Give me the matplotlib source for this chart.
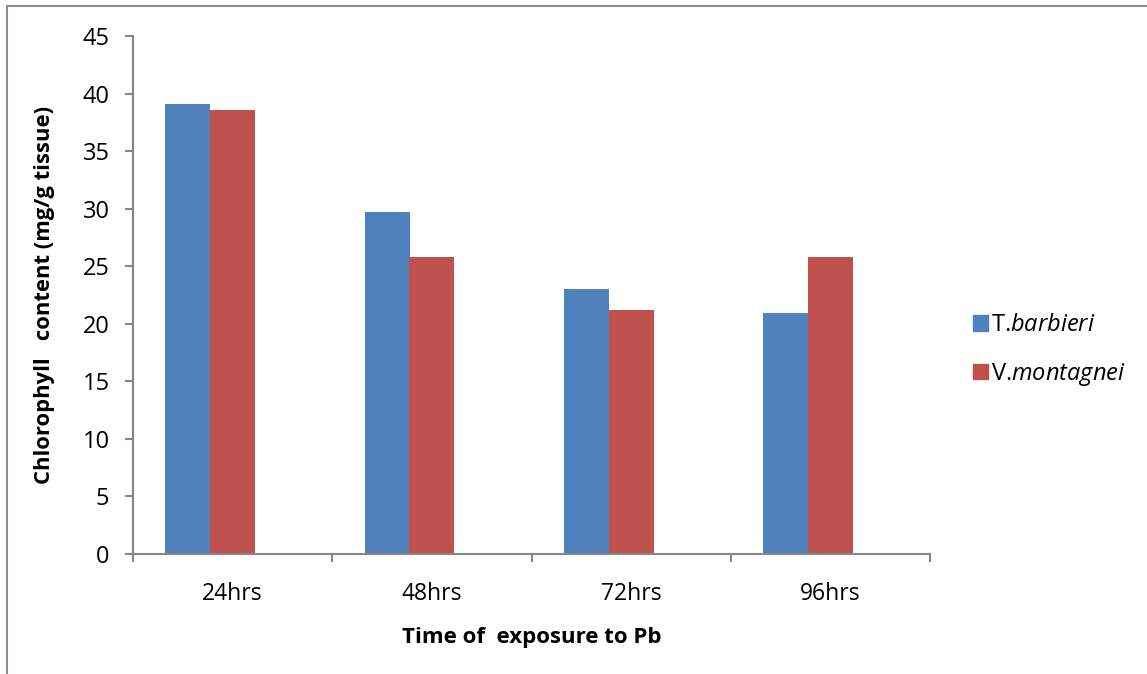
import matplotlib.pyplot as plt
from matplotlib.patches import Rectangle, Patch
import numpy as np

plt.rcParams['font.family'] = ['Open Sans', 'DejaVu Sans']
plt.rcParams['mathtext.fontset'] = 'custom'
plt.rcParams['mathtext.it'] = 'Open Sans:italic'
plt.rcParams['mathtext.rm'] = 'Open Sans'

times = ['24hrs', '48hrs', '72hrs', '96hrs']
barbieri = [39.1, 29.7, 23.0, 20.9]
montagnei = [38.6, 25.8, 21.2, 25.8]

blue = '#4F81BD'
red = '#C0504D'
grey = '#868686'

fig = plt.figure(figsize=(11.47, 6.74), dpi=100)
ax = fig.add_axes([0.116, 0.178, 0.6948, 0.7686])

x = np.arange(len(times))
w = 0.226
ax.bar(x + 0.5 - w / 2 - 0.112, barbieri, w, color=blue, align='center')
ax.bar(x + 0.5 + w / 2 - 0.113, montagnei, w, color=red, align='center')

ax.set_xlim(0, 4)
ax.set_ylim(0, 45)
ax.set_yticks(np.arange(0, 46, 5))
ax.set_xticks(np.arange(0, 5))
ax.set_xticklabels([])
ax.set_xticks(x + 0.5, minor=True)
ax.set_xticklabels(times, minor=True)

for s in ['top', 'right']:
    ax.spines[s].set_visible(False)
for s in ['left', 'bottom']:
    ax.spines[s].set_color(grey)
    ax.spines[s].set_linewidth(1.5)

ax.tick_params(axis='y', length=6, width=1.5, color=grey, pad=11, labelsize=17)
ax.tick_params(axis='x', which='major', length=6, width=1.5, color=grey)
ax.tick_params(axis='x', which='minor', length=0, pad=20, labelsize=16.5)

ax.set_ylabel('Chlorophyll   content (mg/g tissue)', fontsize=15.8, fontweight='bold', labelpad=20)
ax.set_xlabel('Time of  exposure to Pb', fontsize=16, fontweight='bold', labelpad=15)

handles = [Patch(color=blue), Patch(color=red)]
labels = [r'T.$\mathit{barbieri}$', r'V.$\mathit{montagnei}$']
fig.legend(handles, labels, loc='center left', bbox_to_anchor=(0.83, 0.48),
           frameon=False, fontsize=17, handlelength=0.62, handleheight=0.62,
           handletextpad=0.15, labelspacing=1.0)

# chart area frame
fig.patches.append(Rectangle((7 / 1147, -0.1), 1.2, 1.091, transform=fig.transFigure,
                             fill=False, edgecolor='#8C8C8C', linewidth=1.5))

fig.savefig('out.png', dpi=100)
